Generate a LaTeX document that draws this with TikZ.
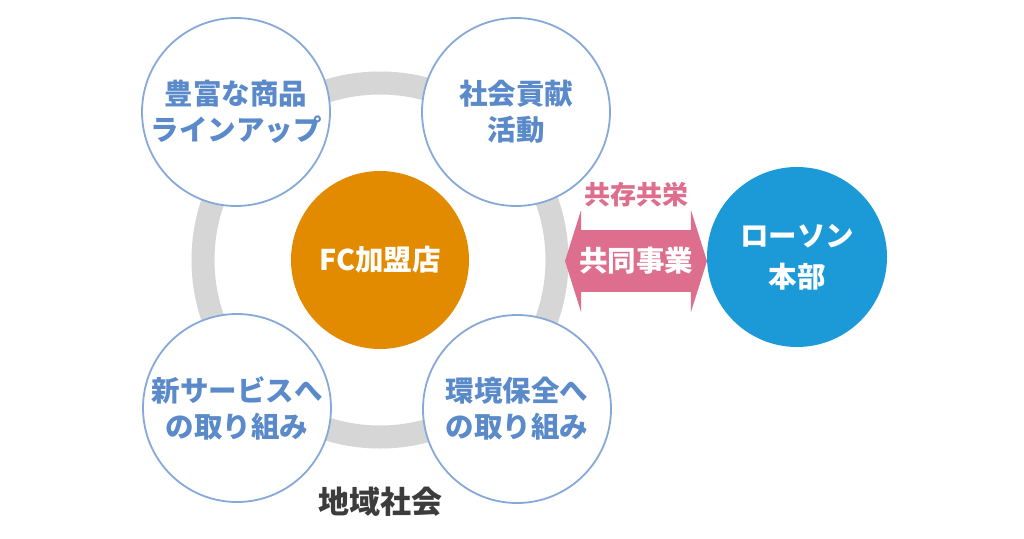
\documentclass[tikz,border=0pt]{standalone}
\usepackage{fontspec}
\setmainfont{Noto Sans CJK JP}
\definecolor{ringGray}{HTML}{D6D6D6}
\definecolor{rimBlue}{HTML}{86A9DA}
\definecolor{textBlue}{HTML}{5A8ACA}
\definecolor{storeOrange}{HTML}{E38B00}
\definecolor{hqBlue}{HTML}{1B9AD7}
\definecolor{linkPink}{HTML}{DE6E8E}
\definecolor{textDark}{HTML}{3C3C3C}
\usetikzlibrary{positioning, shapes.arrows}

\begin{document}
\begin{tikzpicture}[x=1pt, y=-1pt,
    every node/.style={font=\bfseries\fontsize{28.5}{36}\selectfont, align=center},
    activity/.style={circle, draw=rimBlue, line width=1.8pt, fill=white,
      minimum size=188pt, inner sep=0pt, text=textBlue}]
  \useasboundingbox[fill=white] (0,0) rectangle (1024,538);

  % community ring behind everything
  \coordinate (hub) at (380,260);
  \draw[ringGray, line width=23pt] (hub) circle[radius=177pt];

  \node[circle, fill=storeOrange, minimum size=178pt, inner sep=0pt, text=white] (store) at (hub) {FC加盟店};

  \node[activity] (lineup)  at (236,112) {豊富な商品\\ラインアップ};
  \node[activity] (social)  at (516,112) {社会貢献\\活動};
  \node[activity] (service) at (237,408) {新サービスへ\\の取り組み};
  \node[activity] (ecology) at (517,409) {環境保全へ\\の取り組み};

  \node[text=textDark, font=\bfseries\fontsize{31}{36}\selectfont] (community) at (380,502) {地域社会};

  \node[circle, fill=hqBlue, minimum size=180pt, inner sep=0pt, text=white,
        font=\bfseries\fontsize{28.5}{41}\selectfont] (lawson) at (797,257) {ローソン\\本部};

  % joint business arrow
  \node[double arrow, fill=linkPink, text=white, minimum height=142pt,
        inner xsep=2pt, inner ysep=17pt, double arrow head extend=20pt,
        double arrow tip angle=145] (joint) at (636,261) {共同事業};
  \node[text=linkPink, font=\bfseries\fontsize{26}{30}\selectfont, above=19pt of joint] (coexist) {共存共栄};
\end{tikzpicture}
\end{document}
